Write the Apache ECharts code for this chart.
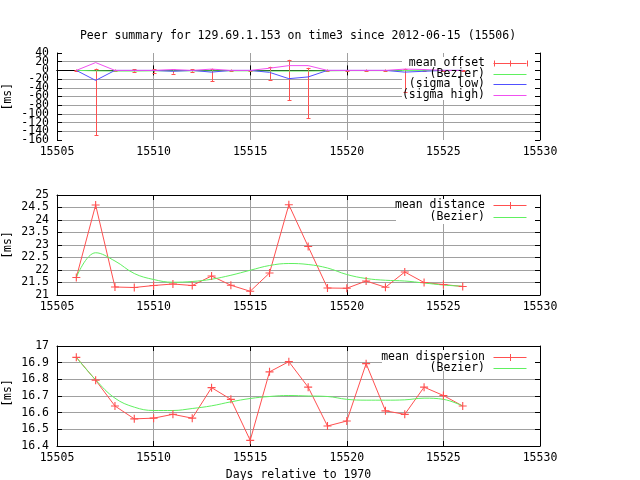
<!DOCTYPE html>
<html>
<head>
<meta charset="utf-8">
<script src="https://cdn.jsdelivr.net/npm/echarts@6/dist/echarts.min.js"></script>
<style>html,body{margin:0;padding:0;background:#fff}#c{width:640px;height:480px}</style>
</head>
<body>
<div id="c"></div>
<script>
// ---------- data ----------
const titleText = 'Peer summary for 129.69.1.153 on time3 since 2012-06-15 (15506)';
const xName = 'Days relative to 1970';
const yName = '[ms]';
const days = [15506,15507,15508,15509,15510,15511,15512,15513,15514,15515,15516,15517,15518,15519,15520,15521,15522,15523,15524,15525,15526];

// panel 1: offset
const offsetMean = [0,-1,0,0,0,0,0,-1,0,0,-1,-2,0,0,0,0,0,-1,0,0,0];
const offsetLow  = [-2,-149,-2,-3,-5,-7.5,-3,-24.5,-2,-1,-21,-69,-110.5,-2,-1,-2,-2,-49.5,-2,-1,-1];
const offsetHigh = [2,4,2,3,3,3,3,4,2,1,8.4,24.4,6,2,1,2,2,4,2,1,1];
const offsetBezier = [0,-1,-1.5,-1.5,-1,-1,-1,-1,-1,-1,-1.5,-1.5,-1.5,-1,-0.5,-0.5,-0.5,-0.5,-0.5,-0.5,0];
const sigmaLow  = [0,-23,0,0,0,-2,0,-4,0,0,-4.5,-19,-15,0,0,0,0,-4,-2,0,0];
const sigmaHigh = [0,18,0,0,0,2,0,3,0,0,5,11,11,0,0,0,0,3,2,0,0];

// panel 2: distance
const distMean   = [21.70,24.60,21.32,21.30,21.38,21.44,21.38,21.76,21.39,21.15,21.88,24.61,22.94,21.28,21.27,21.56,21.31,21.92,21.50,21.42,21.34];
const distBezier = [21.70,22.69,22.36,21.86,21.62,21.51,21.54,21.63,21.79,21.99,22.18,22.26,22.22,22.08,21.82,21.66,21.59,21.56,21.48,21.40,21.35];

// panel 3: dispersion
const dispMean   = [16.932,16.795,16.640,16.563,16.567,16.590,16.567,16.750,16.680,16.434,16.845,16.906,16.753,16.520,16.550,16.894,16.611,16.590,16.753,16.703,16.640];
const dispBezier = [16.932,16.797,16.687,16.633,16.613,16.613,16.625,16.641,16.665,16.685,16.697,16.703,16.700,16.697,16.680,16.675,16.675,16.677,16.687,16.680,16.640];

const xRange = {min: 15505, max: 15530, interval: 5};
const yRanges = [{min: -160, max: 40, interval: 20}, {min: 21, max: 25, interval: 0.5}, {min: 16.4, max: 17, interval: 0.1}];

const legend1 = ['mean offset', '(Bezier)', '(sigma low)', '(sigma high)'];
const legend2 = ['mean distance', '(Bezier)'];
const legend3 = ['mean dispersion', '(Bezier)'];

// ---------- style ----------
const RED = '#ff5050', GREEN = '#60f060', BLUE = '#5050ff', MAG = '#f050f0';
const FONT = 'DejaVu Sans Mono';
const FS = 11.5;
const GRIDC = '#a0a0a0';

const grids = [
  {left: 57, right: 100, top: 53, height: 87, outerBoundsMode: 'none', containLabel: false},
  {left: 57, right: 100, top: 195, height: 100, outerBoundsMode: 'none', containLabel: false},
  {left: 57, right: 100, top: 346, height: 100, outerBoundsMode: 'none', containLabel: false}
];

const pair = d => days.map((x, i) => [x, d[i]]);
const PLUS = 'path://M-0.14,-1H0.14V-0.14H1V0.14H0.14V1H-0.14V0.14H-1V-0.14H-0.14Z';

const xAxes = [], yAxes = [];
grids.forEach((g, gi) => {
  xAxes.push({
    type: 'value', gridIndex: gi, min: xRange.min, max: xRange.max, interval: xRange.interval,
    axisLine: {show: true, lineStyle: {color: '#000', width: 1}},
    axisTick: {show: true, inside: true, length: 5, lineStyle: {color: '#000'}},
    axisLabel: {show: true, color: '#000', fontFamily: FONT, fontSize: FS, margin: 6, showMinLabel: true, showMaxLabel: true, formatter: v => String(v)},
    splitLine: {show: true, showMinLine: false, showMaxLine: false, lineStyle: {color: GRIDC, width: 1}},
    name: gi === 2 ? xName : '', nameLocation: 'middle', nameGap: 23,
    nameTextStyle: {color: '#000', fontFamily: FONT, fontSize: FS}
  });
});
grids.forEach((g, gi) => {
  xAxes.push({
    type: 'value', gridIndex: gi, position: 'top', min: xRange.min, max: xRange.max, interval: xRange.interval,
    axisLine: {show: true, lineStyle: {color: '#000', width: 1}},
    axisTick: {show: true, inside: true, length: 5, lineStyle: {color: '#000'}},
    axisLabel: {show: false}, splitLine: {show: false}
  });
});
// top panel labels are dense: split them over two coincident axes (even / odd ticks)
const evenTick = (v, r) => Math.round((v - r.min) / r.interval) % 2 === 0;
grids.forEach((g, gi) => {
  const r = yRanges[gi];
  yAxes.push({
    type: 'value', gridIndex: gi, min: r.min, max: r.max, interval: r.interval,
    axisLine: {show: true, lineStyle: {color: '#000', width: 1}},
    axisTick: {show: true, inside: true, length: 5, lineStyle: {color: '#000'}},
    axisLabel: {show: true, color: '#000', fontFamily: FONT, fontSize: FS, margin: 8, showMinLabel: true, showMaxLabel: true, hideOverlap: false,
      formatter: gi === 0 ? (v => evenTick(v, r) ? String(v) : '') : (v => String(v))},
    splitLine: {show: true, showMinLine: false, showMaxLine: false, lineStyle: {color: GRIDC, width: 1}}
  });
});
grids.forEach((g, gi) => {
  const r = yRanges[gi];
  yAxes.push({
    type: 'value', gridIndex: gi, position: 'right', min: r.min, max: r.max, interval: r.interval,
    axisLine: {show: true, lineStyle: {color: '#000', width: 1}},
    axisTick: {show: true, inside: true, length: 5, lineStyle: {color: '#000'}},
    axisLabel: {show: false}, splitLine: {show: false}
  });
});
yAxes.push({
  type: 'value', gridIndex: 0, position: 'left', offset: 0, min: yRanges[0].min, max: yRanges[0].max, interval: yRanges[0].interval,
  axisLine: {show: false}, axisTick: {show: false}, splitLine: {show: false},
  axisLabel: {show: true, color: '#000', fontFamily: FONT, fontSize: FS, margin: 8, showMinLabel: true, showMaxLabel: true, hideOverlap: false,
    formatter: v => evenTick(v, yRanges[0]) ? '' : String(v)}
});

const lineSeries = (name, data, color, gi, extra) => Object.assign({
  type: 'line', name: name, xAxisIndex: gi, yAxisIndex: gi, data: pair(data),
  showSymbol: false, symbol: 'none', lineStyle: {color: color, width: 1}, itemStyle: {color: color},
  silent: true
}, extra || {});

const errData = days.map((d, i) => [d, offsetLow[i], offsetHigh[i], offsetMean[i]]);

const series = [
  {
    type: 'custom', name: 'mean offset', xAxisIndex: 0, yAxisIndex: 0, data: errData,
    encode: {x: 0, y: [1, 2]}, silent: true,
    renderItem: (params, api) => {
      const x = api.value(0);
      const pl = api.coord([x, api.value(1)]);
      const ph = api.coord([x, api.value(2)]);
      const cx = Math.round(pl[0]) + 0.5;
      const st = {stroke: RED, lineWidth: 1};
      return {type: 'group', children: [
        {type: 'line', shape: {x1: cx, y1: pl[1], x2: cx, y2: ph[1]}, style: st},
        {type: 'line', shape: {x1: cx - 2, y1: Math.round(pl[1]) + 0.5, x2: cx + 2, y2: Math.round(pl[1]) + 0.5}, style: st},
        {type: 'line', shape: {x1: cx - 2, y1: Math.round(ph[1]) + 0.5, x2: cx + 2, y2: Math.round(ph[1]) + 0.5}, style: st}
      ]};
    }
  },
  lineSeries('(Bezier)', offsetBezier, GREEN, 0),
  lineSeries('(sigma low)', sigmaLow, BLUE, 0),
  lineSeries('(sigma high)', sigmaHigh, MAG, 0),
  lineSeries('mean distance', distMean, RED, 1, {showSymbol: true, symbol: PLUS, symbolSize: 8}),
  lineSeries('(Bezier)', distBezier, GREEN, 1, {smooth: 0.4}),
  lineSeries('mean dispersion', dispMean, RED, 2, {showSymbol: true, symbol: PLUS, symbolSize: 8}),
  lineSeries('(Bezier)', dispBezier, GREEN, 2, {smooth: 0.4})
];

// ---------- legends (drawn as graphic) ----------
const TX = 485, S1 = 493.5, S2 = 526.5;
const graphics = [];
function addLegend(box, rows, labels, samples) {
  graphics.push({type: 'rect', z: 1, shape: {x: box[0], y: box[1], width: box[2], height: box[3]}, style: {fill: '#fff'}, silent: true});
  labels.forEach((t, i) => {
    const y = rows[i];
    graphics.push({type: 'text', z: 10, x: TX, y: y, style: {text: t, fill: '#000', font: FS + 'px "' + FONT + '"', textAlign: 'right', textVerticalAlign: 'middle'}, silent: true});
    const yy = Math.round(y) + 0.5;
    const s = samples[i];
    graphics.push({type: 'line', z: 10, shape: {x1: S1, y1: yy, x2: S2, y2: yy}, style: {stroke: s.c, lineWidth: 1}, silent: true});
    if (s.err) {
      [S1, (S1 + S2) / 2, S2].forEach(xx => {
        const xr = Math.round(xx) + 0.5;
        graphics.push({type: 'line', z: 10, shape: {x1: xr, y1: yy - 3, x2: xr, y2: yy + 3}, style: {stroke: s.c, lineWidth: 1}, silent: true});
      });
    }
    if (s.plus) {
      const xr = Math.round((S1 + S2) / 2) + 0.5;
      graphics.push({type: 'line', z: 10, shape: {x1: xr, y1: yy - 3.5, x2: xr, y2: yy + 3.5}, style: {stroke: s.c, lineWidth: 1}, silent: true});
    }
  });
}
addLegend([402, 57, 133, 43], [62.7, 73.7, 84.3, 95.3], legend1,
  [{c: RED, err: true}, {c: GREEN}, {c: BLUE}, {c: MAG}]);
addLegend([396, 199, 139, 25], [205.3, 216.7], legend2, [{c: RED, plus: true}, {c: GREEN}]);
addLegend([382, 350, 153, 21], [356.7, 367.7], legend3, [{c: RED, plus: true}, {c: GREEN}]);

// y-axis titles, rotated, one per panel
[96.7, 245, 393].forEach(cy => {
  graphics.push({type: 'text', z: 10, x: 8.5, y: cy, rotation: Math.PI / 2,
    style: {text: yName, fill: '#000', font: FS + 'px "' + FONT + '"', textAlign: 'center', textVerticalAlign: 'middle'}, silent: true});
});

graphics.push({type: 'text', z: 10, x: 298, y: 35.7, style: {text: titleText, fill: '#000', font: FS + 'px "' + FONT + '"', textAlign: 'center', textVerticalAlign: 'middle'}, silent: true});

const chart = echarts.init(document.getElementById('c'), null, {renderer: 'canvas'});
chart.setOption({
  animation: false,
  backgroundColor: '#fff',
  grid: grids,
  xAxis: xAxes,
  yAxis: yAxes,
  series: series,
  graphic: graphics
});
</script>
</body>
</html>
